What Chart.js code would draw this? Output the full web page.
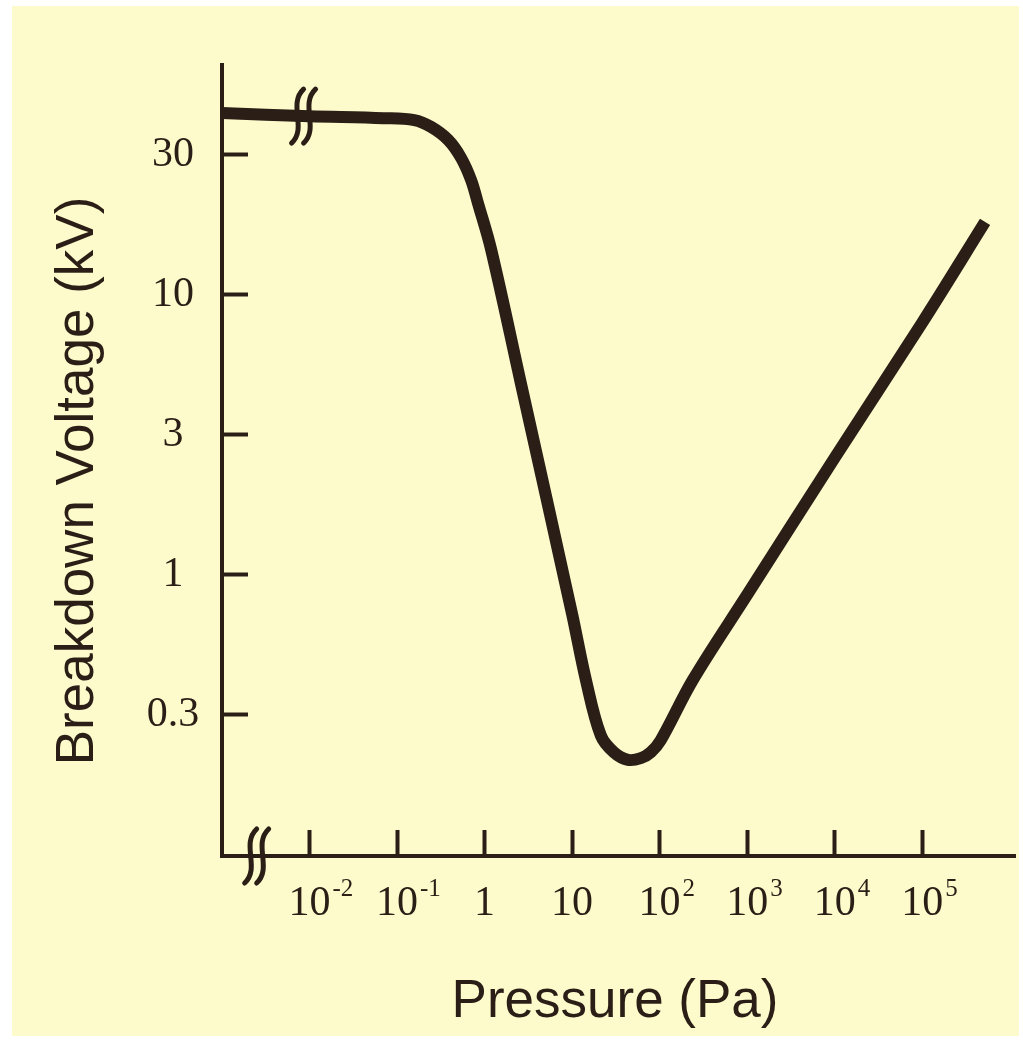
<!DOCTYPE html>
<html>
<head>
<meta charset="utf-8">
<title>Breakdown Voltage vs Pressure</title>
<script src="https://cdn.jsdelivr.net/npm/chart.js@4/dist/chart.umd.min.js"></script>
<style>
  html, body { margin: 0; padding: 0; background: #ffffff; }
  #wrap { width: 1023px; height: 1041px; }
</style>
</head>
<body>
<div id="wrap"><canvas id="chart" width="1023" height="1041"></canvas></div>
<script>
// Paschen curve (pressure in Pa, voltage in kV)
const pressurePa = [0.001, 0.01, 0.07, 0.157, 0.246, 0.385, 0.541, 0.703, 0.845, 1.19, 2.6, 10, 14.4, 21.3, 30.0, 43.4, 61.0, 79.3, 103, 239, 1000, 10000, 100000, 523000];
const voltageKV  = [44.3, 43.2, 42.5, 41.8, 39.5, 35.5, 30.6, 25.5, 21.0, 14.4, 4.8, 0.72, 0.418, 0.265, 0.231, 0.217, 0.220, 0.231, 0.255, 0.418, 0.843, 2.6, 7.9, 18.1];

// axis ticks
const xTickValues = [1e-2, 1e-1, 1, 10, 1e2, 1e3, 1e4, 1e5];
const xTickExponents = [-2, -1, 0, 1, 2, 3, 4, 5];
const yTickValues = [0.3162, 1, 3.162, 10, 31.62];
const yTickLabels = ['0.3', '1', '3', '10', '30'];

// where the axis-break marks sit (pressure, voltage)
const curveBreak = { p: 0.00855, v: 43.2 };
const axisBreakP = 0.00249;

const xTitle = 'Pressure (Pa)';
const yTitle = 'Breakdown Voltage (kV)';

const INK = '#2a1e16';
const PAPER = '#fdfbcb';

// yellow sheet with a thin white margin
const paperPlugin = {
    id: 'paper',
    beforeDraw(chart) {
        const ctx = chart.ctx;
        ctx.save();
        ctx.fillStyle = PAPER;
        ctx.fillRect(12, 6, 1007, 1030);
        ctx.restore();
    }
};

function drawBreak(ctx, cx, cy) {
    ctx.save();
    ctx.strokeStyle = INK;
    ctx.lineWidth = 5;
    ctx.lineCap = 'round';
    [-6, 6].forEach(dx => {
        const x = cx + dx;
        ctx.beginPath();
        ctx.moveTo(x + 6, cy - 27);
        ctx.bezierCurveTo(x - 10, cy - 12, x + 10, cy + 12, x - 6, cy + 27);
        ctx.stroke();
    });
    ctx.restore();
}

// tick labels with superscripts, axis titles, break marks
const labelsPlugin = {
    id: 'labels',
    afterDraw(chart) {
        const ctx = chart.ctx;
        const xs = chart.scales.x;
        const ys = chart.scales.y;
        const area = chart.chartArea;
        ctx.save();
        ctx.fillStyle = INK;

        // x tick labels
        ctx.textBaseline = 'alphabetic';
        xs.ticks.forEach((t, i) => {
            const px = xs.getPixelForValue(t.value);
            const e = xTickExponents[i];
            const base = e === 0 ? '1' : '10';
            ctx.font = '42px "Liberation Serif", "Times New Roman", serif';
            ctx.textAlign = 'center';
            ctx.fillText(base, px, 915);
            if (e !== 0 && e !== 1) {
                const w = ctx.measureText(base).width;
                ctx.font = '25px "Liberation Serif", "Times New Roman", serif';
                ctx.textAlign = 'left';
                ctx.fillText(String(e), px + w / 2 + 2, 896);
            }
        });

        // y tick labels
        ctx.font = '42px "Liberation Serif", "Times New Roman", serif';
        ctx.textAlign = 'center';
        ctx.textBaseline = 'middle';
        ys.ticks.forEach((t, i) => {
            ctx.fillText(yTickLabels[i], 173, ys.getPixelForValue(t.value) + 1);
        });

        // axis titles
        ctx.font = '53px "Liberation Sans", Arial, sans-serif';
        ctx.textAlign = 'center';
        ctx.textBaseline = 'alphabetic';
        ctx.fillText(xTitle, 615, 1017);
        ctx.translate(93, 481);
        ctx.rotate(-Math.PI / 2);
        ctx.fillText(yTitle, 0, 0);
        ctx.restore();

        drawBreak(ctx, xs.getPixelForValue(curveBreak.p), ys.getPixelForValue(curveBreak.v));
        drawBreak(ctx, xs.getPixelForValue(axisBreakP), area.bottom);
    }
};

const points = pressurePa.map((p, i) => ({ x: p, y: voltageKV[i] }));

new Chart(document.getElementById('chart'), {
    type: 'line',
    data: {
        datasets: [{
            data: points,
            borderColor: INK,
            borderWidth: 12,
            borderCapStyle: 'butt',
            borderJoinStyle: 'round',
            pointRadius: 0,
            fill: false,
            tension: 0.35
        }]
    },
    options: {
        responsive: false,
        animation: false,
        layout: { padding: { top: 65, right: 8, left: 0, bottom: 0 } },
        plugins: {
            legend: { display: false },
            tooltip: { enabled: false }
        },
        scales: {
            x: {
                type: 'logarithmic',
                min: 0.001,
                max: 1150000,
                afterBuildTicks: s => { s.ticks = xTickValues.map(v => ({ value: v })); },
                afterFit: s => { s.height = 185; },
                ticks: { display: false },
                grid: {
                    drawOnChartArea: false,
                    drawTicks: true,
                    tickLength: -26,
                    tickWidth: 4,
                    tickColor: INK
                },
                border: { display: true, color: INK, width: 4 }
            },
            y: {
                type: 'logarithmic',
                min: 0.0984,
                max: 65.8,
                afterBuildTicks: s => { s.ticks = yTickValues.map(v => ({ value: v })); },
                afterFit: s => { s.width = 222; },
                ticks: { display: false },
                grid: {
                    drawOnChartArea: false,
                    drawTicks: true,
                    tickLength: -26,
                    tickWidth: 4,
                    tickColor: INK
                },
                border: { display: true, color: INK, width: 4 }
            }
        }
    },
    plugins: [paperPlugin, labelsPlugin]
});
</script>
</body>
</html>
